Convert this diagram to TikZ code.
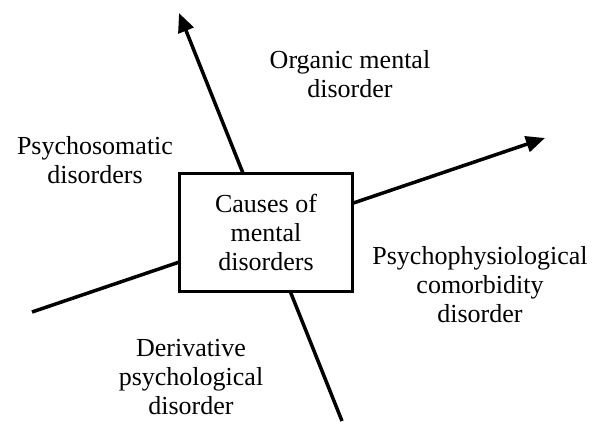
\documentclass[tikz,border=0pt]{standalone}
\usepackage{fontspec}
\setmainfont{Liberation Serif}
\usetikzlibrary{arrows.meta}
\tikzset{
  axis/.style={line width=3.5pt,-{Triangle[length=19pt,width=16pt]}},
  lbl/.style={align=center,font=\fontsize{26}{29}\selectfont,inner sep=0pt,anchor=base},
  mainbox/.style={draw,line width=3.5pt,fill=white,minimum width=173pt,minimum height=118pt,inner sep=0pt,align=center,font=\fontsize{26}{29}\selectfont}
}
\begin{document}
\begin{tikzpicture}[x=1pt,y=-1pt]
\useasboundingbox (0,0) rectangle (596,421);
\coordinate (vb) at (342,421);
\coordinate (vt) at (179,13);
\coordinate (hl) at (32,312);
\coordinate (hr) at (545,138);
\draw[axis] (vb) -- (vt);
\draw[axis] (hl) -- (hr);
\node[mainbox] (box) at (266,232.5) {Causes of\\mental\\disorders};
\node[lbl] (org) at (350,97) {Organic mental\\disorder};
\node[lbl] (psm) at (95,183) {Psychosomatic\\disorders};
\node[lbl] (pph) at (480,322) {Psychophysiological\\comorbidity\\disorder};
\node[lbl] (der) at (191,414) {Derivative\\psychological\\disorder};
\end{tikzpicture}
\end{document}
